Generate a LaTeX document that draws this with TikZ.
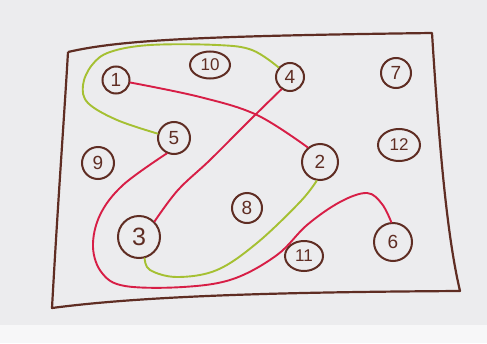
\documentclass[tikz,border=0pt]{standalone}
\usepackage{fontspec}
\setmainfont{Liberation Sans}
\usetikzlibrary{shapes.geometric}
\definecolor{ink}{RGB}{95,45,35}
\definecolor{redl}{RGB}{215,30,70}
\definecolor{greenl}{RGB}{165,192,50}
\definecolor{paper}{RGB}{236,236,238}
\begin{document}
\begin{tikzpicture}[x=1pt,y=-1pt,
  num/.style={circle,draw=ink,line width=2pt,text=ink,inner sep=0pt,font=\fontsize{19}{19}\selectfont},
  oval/.style={ellipse,draw=ink,line width=2pt,text=ink,inner sep=0pt,font=\fontsize{17}{17}\selectfont},
  redline/.style={draw=redl,line width=1.9pt,line cap=round},
  greenline/.style={draw=greenl,line width=1.9pt,line cap=round},
  frame/.style={draw=ink,line width=2.2pt,line join=round}]
\useasboundingbox (0,0) rectangle (487,343);
\fill[paper] (0,0) rectangle (487,343);
\fill[white!60!paper] (0,325) rectangle (487,343);
% frame
\draw[frame] (68,52) .. controls (120,40) and (200,36) .. (432,33)
  .. controls (440,160) and (448,240) .. (460,291)
  .. controls (300,292) and (150,295) .. (52,308)
  .. controls (58,200) and (64,120) .. (68,52);
% nodes
\node[num,minimum size=27pt] (n1) at (116,80) {1};
\node[oval,minimum width=40pt,minimum height=27pt] (n10) at (210,65) {10};
\node[num,minimum size=28pt] (n4) at (290,77) {4};
\node[num,minimum size=30pt] (n7) at (396,73) {7};
\node[num,minimum size=32pt] (n5) at (174,138) {5};
\node[num,minimum size=32pt] (n9) at (98,163) {9};
\node[num,minimum size=36pt] (n2) at (320,162) {2};
\node[oval,minimum width=42pt,minimum height=32pt] (n12) at (399,145) {12};
\node[num,minimum size=30pt] (n8) at (247,208) {8};
\node[num,minimum size=42pt,font=\fontsize{25}{25}\selectfont] (n3) at (139,237) {3};
\node[num,minimum size=38pt] (n6) at (393,242) {6};
\node[oval,minimum width=38pt,minimum height=30pt] (n11) at (304,256) {11};
% green connectors
\draw[greenline] plot[smooth,tension=0.6] coordinates {(n5.165) (117,120) (88,103) (83,85) (92,65) (110,52) (150,45) (217,45) (252,50) (n4.140)};
\draw[greenline] plot[smooth,tension=0.6] coordinates {(n3.-75) (150,270) (177,277) (217,270) (257,243) (300,202) (n2.-100)};
% red connectors
\draw[redline] plot[smooth,tension=0.6] coordinates {(n1.-10) (200,97) (257,115) (n2.130)};
\draw[redline] plot[smooth,tension=0.6] coordinates {(n4.-125) (250,120) (210,160) (178,190) (n3.45)};
\draw[redline] plot[smooth,tension=0.6] coordinates {(n5.-115) (123,185) (100,215) (93,247) (102,273) (125,286) (183,287) (233,279) (277,255) (307,225) (340,202) (367,193) (382,204) (n6.95)};
\end{tikzpicture}
\end{document}
